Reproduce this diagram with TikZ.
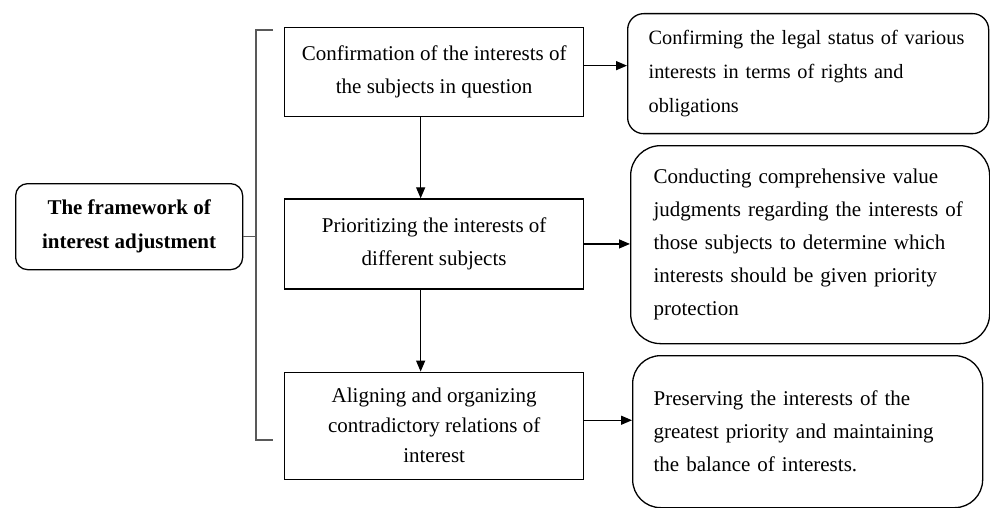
\documentclass[tikz,border=0pt]{standalone}
\usepackage{fontspec}
\setmainfont{Liberation Serif}
\usetikzlibrary{positioning,arrows.meta}

\begin{document}
\begin{tikzpicture}[x=1pt,y=-1pt,
    >={Triangle[length=11pt,width=9pt]},
    line width=1.3pt,
    font=\fontsize{21}{33}\selectfont,
    stage/.style={draw,rectangle,minimum width=299pt,align=center,inner sep=0pt},
    outcome/.style={draw,anchor=north west,align=left,inner ysep=0pt}]
    \useasboundingbox (0,0) rectangle (990,508);

    % left: the framework box and its bracket
    \node[draw,rounded corners=12pt,anchor=north west,minimum width=227pt,
        minimum height=86pt,align=center,font=\fontsize{21}{34}\selectfont\bfseries]
        (frame) at (15,183) {The framework of\\interest adjustment};
    \coordinate (brtop) at (273,30);
    \coordinate (brbot) at (273,440);
    \draw[gray!70!black] (brtop) -- (256,30) -- (256,440) -- (brbot);
    \draw[gray!70!black] ([yshift=-10pt]frame.east) -- ++(14,0);

    % middle column
    \node[stage,anchor=north west,minimum height=89pt] (conf) at (284,27)
        {Confirmation of the interests of\\the subjects in question};
    \node[stage,minimum height=90pt,below=81pt of conf] (prio)
        {Prioritizing the interests of\\different subjects};
    \node[stage,minimum height=107pt,below=82pt of prio,
        font=\fontsize{21}{30}\selectfont] (align)
        {Aligning and organizing\\contradictory relations of\\interest};

    % right column
    \node[outcome,rounded corners=16pt,minimum width=361pt,minimum height=120pt,
        inner xsep=21pt,text width=319pt,font=\fontsize{20.3}{34}\selectfont] (outA) at (627,13)
        {Confirming the legal status of various\\interests in terms of rights and\\obligations};
    \node[outcome,rounded corners=30pt,minimum width=359pt,minimum height=198pt,
        inner xsep=23pt,text width=313pt] (outB) at (630,145)
        {Conducting comprehensive value\\judgments regarding the interests of\\those subjects to determine which\\interests should be given priority\\protection};
    \node[outcome,rounded corners=28pt,minimum width=350pt,minimum height=152pt,
        inner xsep=21pt,text width=308pt] (outC) at (632,355)
        {Preserving the interests of the\\greatest priority and maintaining\\the balance of interests.};

    \draw[->] ([xshift=-13.5pt]conf.south) -- ([xshift=-13.5pt]prio.north);
    \draw[->] ([xshift=-13.5pt]prio.south) -- ([xshift=-13.5pt]align.north);
    \draw[->] ([yshift=6.5pt]conf.east) -- ([yshift=6.5pt]conf.east -| outA.west);
    \draw[->] (prio.east) -- (prio.east -| outB.west);
    \draw[->] ([yshift=5.5pt]align.east) -- ([yshift=5.5pt]align.east -| outC.west);
\end{tikzpicture}
\end{document}
